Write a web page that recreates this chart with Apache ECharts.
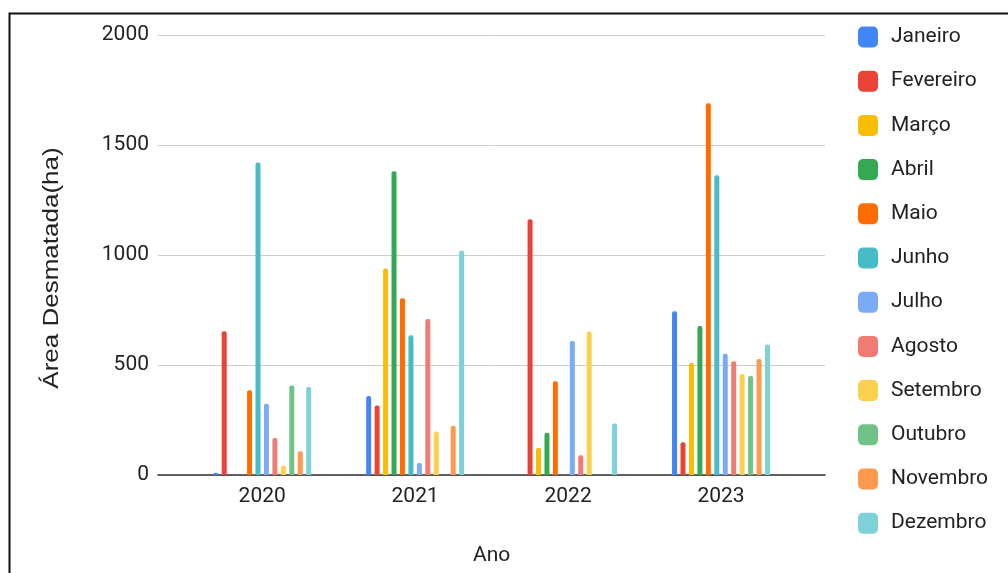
<!DOCTYPE html>
<html><head><meta charset="utf-8">
<script src="https://cdn.jsdelivr.net/npm/echarts@6/dist/echarts.min.js"></script>
<style>html,body{margin:0;padding:0;background:#fff}#c{width:1008px;height:573px}</style>
</head><body><div id="c"></div>
<script>
const categories = ['2020', '2021', '2022', '2023'];
const months = ['Janeiro','Fevereiro','Março','Abril','Maio','Junho','Julho','Agosto','Setembro','Outubro','Novembro','Dezembro'];
const janeiro   = [10, 359, 0, 744];
const fevereiro = [653, 316, 1162, 149];
const marco     = [0, 939, 124, 509];
const abril     = [0, 1381, 192, 677];
const maio      = [385, 803, 426, 1690];
const junho     = [1421, 635, 0, 1362];
const julho     = [324, 55, 609, 551];
const agosto    = [168, 709, 90, 517];
const setembro  = [42, 198, 652, 459];
const outubro   = [407, 0, 0, 450];
const novembro  = [108, 224, 0, 527];
const dezembro  = [400, 1020, 234, 593];
const yTicks = [0, 500, 1000, 1500, 2000];
const seriesValues = [janeiro, fevereiro, marco, abril, maio, junho, julho, agosto, setembro, outubro, novembro, dezembro];
const colors = ['#4285F4','#EA4335','#FBBC04','#34A853','#FF6D01','#46BDC6','#7BAAF7','#F07B72','#FCD04F','#71C287','#FF994D','#7ED1D7'];

const FONT = 'Roboto, sans-serif';
const FS = 21;
const chart = echarts.init(document.getElementById('c'), null, {renderer: 'canvas'});
chart.setOption({
  animation: false,
  color: colors,
  grid: [
    {left: 158, right: 183, top: 35, bottom: 98},
    {left: 185.75, right: 210.5, top: 35, bottom: 98}
  ],
  xAxis: [
    {gridIndex: 0, type: 'value', min: 0, max: 1, axisLine: {show: true, onZero: false, lineStyle: {color: '#333', width: 1.5}},
     axisTick: {show: false}, axisLabel: {show: false}, splitLine: {show: false}},
    {gridIndex: 1, type: 'category', data: categories, axisLine: {show: false}, axisTick: {show: false},
     axisLabel: {margin: 11, fontSize: FS, fontFamily: FONT, color: '#222'},
     name: 'Ano', nameLocation: 'middle', nameGap: 70,
     nameTextStyle: {fontSize: FS, fontFamily: FONT, color: '#222'}}
  ],
  yAxis: [
    {gridIndex: 0, type: 'value', min: yTicks[0], max: yTicks[yTicks.length-1], interval: 500,
     axisLine: {show: false}, axisTick: {show: false},
     axisLabel: {margin: 9, fontSize: FS, fontFamily: FONT, color: '#222', formatter: v => String(v)},
     splitLine: {show: true, lineStyle: {color: '#cccccc', width: 1}}},
    {gridIndex: 1, type: 'value', min: yTicks[0], max: yTicks[yTicks.length-1], interval: 500,
     show: false, splitLine: {show: false}}
  ],
  legend: {
    orient: 'vertical', left: 853, top: 21.5, itemWidth: 20, itemHeight: 21, itemGap: 23.2,
    icon: 'roundRect',
    textStyle: {fontSize: FS, fontFamily: FONT, color: '#222', padding: [0, 0, 0, 8]},
    data: months
  },
  graphic: [
    {type: 'rect', left: 7, top: 11, shape: {x: 0, y: 0, width: 1100, height: 700},
     style: {fill: 'none', stroke: '#111', lineWidth: 2}, silent: true},
    {type: 'text', x: 52, y: 268, rotation: Math.PI / 2, scaleX: 1, scaleY: 0.82,
     style: {text: 'Área Desmatada(ha)', font: '26px "Liberation Sans", Roboto, sans-serif', fill: '#222',
             textAlign: 'center', textVerticalAlign: 'middle'}}
  ],
  series: months.map((m, i) => ({
    name: m, type: 'bar', xAxisIndex: 1, yAxisIndex: 1,
    data: seriesValues[i], barWidth: 5, barGap: '69%',
    itemStyle: {color: colors[i], borderRadius: [2, 2, 0, 0]}
  }))
});
</script></body></html>
